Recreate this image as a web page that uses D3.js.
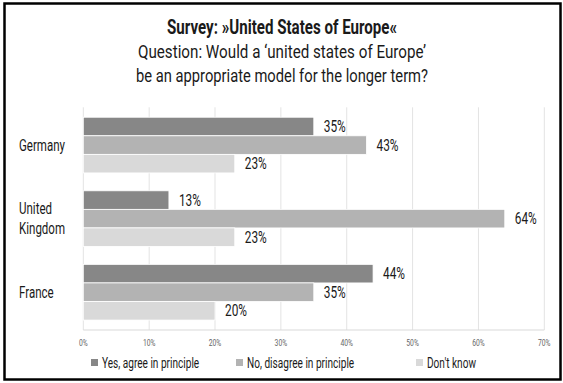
<!DOCTYPE html>
<html><head><meta charset="utf-8">
<script src="https://cdn.jsdelivr.net/npm/d3@7"></script>
<style>body{margin:0;background:#fff}svg{display:block}text{font-family:Roboto,"Noto Sans",sans-serif}</style>
</head><body>
<script>
const categories = ["Germany", "United Kingdom", "France"];
const seriesNames = ["Yes, agree in principle", "No, disagree in principle", "Don't know"];
const yesValues = [35, 13, 44];
const noValues = [43, 64, 35];
const dontKnowValues = [23, 23, 20];
const tickValues = [0, 10, 20, 30, 40, 50, 60, 70];
const titleLines = ["Survey: »United States of Europe«", "Question: Would a ‘united states of Europe’", "be an appropriate model for the longer term?"];
const colors = ["#878787", "#b3b3b3", "#d9d9d9"];

const W = 563, H = 383;
const svg = d3.select("body").append("svg").attr("width", W).attr("height", H);
svg.append("rect").attr("x", 0).attr("y", 0).attr("width", W).attr("height", H).attr("fill", "#fff");
svg.append("rect").attr("x", 4.5).attr("y", 3.5).attr("width", 556).attr("height", 376)
  .attr("fill", "none").attr("stroke", "#000").attr("stroke-width", 2.5);

function condense(sel, f) {
  sel.each(function(){ const L = this.getComputedTextLength(); d3.select(this).attr("textLength", L*f).attr("lengthAdjust","spacingAndGlyphs"); });
  return sel;
}
function fitTo(sel, w) { sel.attr("textLength", w).attr("lengthAdjust","spacingAndGlyphs"); return sel; }

// titles
const tY = [34, 58, 82], tW = [230, 288, 292], tSize = [20, 19, 19];
titleLines.forEach((t, i) => {
  const tx = svg.append("text").attr("x", 282).attr("y", tY[i]).attr("text-anchor", "middle")
    .attr("font-size", tSize[i]).attr("font-weight", i === 0 ? 700 : 400).attr("fill", "#1a1a1a").text(t);
  fitTo(tx, tW[i]);
});

const x0 = 83.3, x1 = 544.3, yTop = 107.3, yBot = 330;
const x = d3.scaleLinear().domain([0, 70]).range([x0, x1]);
const y = d3.scaleBand().domain(categories).range([yTop, yBot]).paddingInner(0.243).paddingOuter(0.135);
const ys = d3.scaleBand().domain(seriesNames).range([0, y.bandwidth()]);

// gridlines
svg.append("g").selectAll("line").data(tickValues).join("line")
  .attr("x1", d => x(d)).attr("x2", d => x(d)).attr("y1", yTop).attr("y2", yBot)
  .attr("stroke", "#e3e3e3").attr("stroke-width", 1);
// axis line
svg.append("line").attr("x1", x0).attr("x2", x1).attr("y1", yBot).attr("y2", yBot).attr("stroke", "#d9d9d9").attr("stroke-width", 1.2);

const series = [yesValues, noValues, dontKnowValues];
const rows = [];
categories.forEach((c, ci) => series.forEach((s, si) => rows.push({c, s: seriesNames[si], si, v: s[ci]})));

svg.append("g").selectAll("rect").data(rows).join("rect")
  .attr("x", x(0)).attr("y", d => y(d.c) + ys(d.s)).attr("width", d => x(d.v) - x(0)).attr("height", ys.bandwidth())
  .attr("fill", d => colors[d.si]).attr("stroke", "#fff").attr("stroke-width", 0.8);

const vl = svg.append("g").selectAll("text").data(rows).join("text")
  .attr("x", d => x(d.v) + 10).attr("y", d => y(d.c) + ys(d.s) + ys.bandwidth()/2 + 5.5)
  .attr("font-size", 16).attr("fill", "#1a1a1a").text(d => d.v + "%");
condense(vl, 0.74);

// category labels
categories.forEach(c => {
  const words = c === "United Kingdom" ? ["United", "Kingdom"] : [c];
  const cy = y(c) + y.bandwidth()/2;
  words.forEach((w, wi) => {
    const t = svg.append("text").attr("x", 19).attr("y", cy + 5.5 + (wi - (words.length-1)/2) * 20)
      .attr("font-size", 16).attr("fill", "#1a1a1a").text(w);
    condense(t, 0.72);
  });
});

// ticks
const tl = svg.append("g").selectAll("text").data(tickValues).join("text")
  .attr("x", d => x(d)).attr("y", 346).attr("text-anchor", "middle")
  .attr("font-size", 9).attr("fill", "#666").text(d => d + "%");
condense(tl, 0.75);

// legend
const lx = [91, 236, 416];
seriesNames.forEach((n, i) => {
  svg.append("rect").attr("x", lx[i]).attr("y", 359).attr("width", 7).attr("height", 7).attr("fill", colors[i]);
  const t = svg.append("text").attr("x", lx[i] + 11).attr("y", 367.5).attr("font-size", 14).attr("fill", "#1a1a1a").text(n);
  condense(t, 0.72);
});
</script>
</body></html>
